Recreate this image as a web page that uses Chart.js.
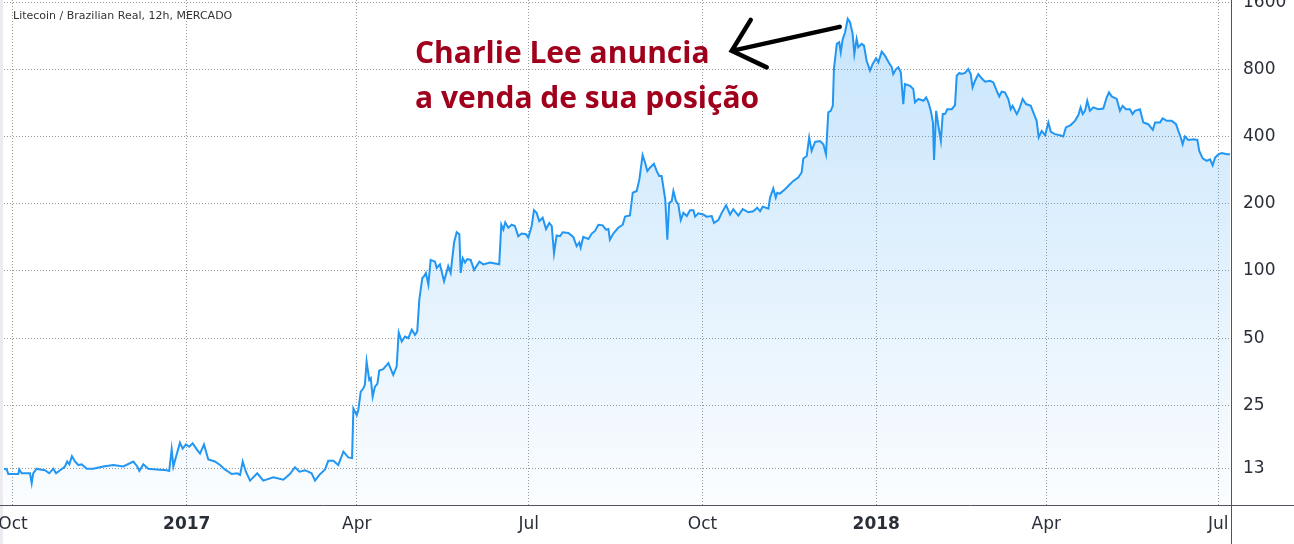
<!DOCTYPE html>
<html lang="pt-BR">
<head>
<meta charset="utf-8">
<title>Litecoin / Brazilian Real</title>
<script src="https://cdn.jsdelivr.net/npm/chart.js@4.4.1/dist/chart.umd.min.js"></script>
<style>
  html, body { margin: 0; padding: 0; background: #fff; }
  #caixa { position: relative; width: 1294px; height: 544px; overflow: hidden; }
  #grafico { position: absolute; left: 0; top: 0; }
  #titulo { position: absolute; left: 13px; top: 9px; font: 11px "DejaVu Sans", sans-serif; color: #333; white-space: nowrap; }
  #nota { position: absolute; left: 415px; top: 29px; font: bold 30px/45px "Open Sans", sans-serif; color: #a0001c; white-space: nowrap; }
</style>
</head>
<body>
<div id="caixa">
  <canvas id="grafico" width="1294" height="544"></canvas>
  <div id="titulo">Litecoin / Brazilian Real, 12h, MERCADO</div>
  <div id="nota">Charlie Lee anuncia<br>a venda de sua posição</div>
</div>
<script>
// dias contados a partir de 1 out 2016
const dias = [
  -4.8, -3.3, -2.5, 2.8, 3.3, 4.6, 9.0, 9.9, 10.7, 12.5, 14.3, 16.9, 19.2, 21.3, 22.8, 24.9,
  27.5, 28.7, 29.8, 31.2, 32.8, 34.6, 36.4, 39.0, 42.5, 47.8, 53.1, 58.4, 63.7, 65.8, 66.9, 69.0,
  71.6, 76.1, 81.4, 82.7, 84.0, 84.9, 86.3, 88.4, 89.8, 91.6, 93.3, 95.1, 97.2, 99.0, 101.1, 103.4,
  106.9, 109.6, 112.2, 115.8, 118.7, 120.2, 121.6, 123.3, 125.5, 129.3, 132.5, 137.8, 143.1, 146.6, 149.3, 151.6,
  154.6, 158.1, 159.9, 162.2, 165.2, 166.9, 169.6, 172.2, 174.9, 177.5, 179.5, 180.2, 182.0, 182.8, 184.1, 185.5,
  186.3, 187.2, 188.6, 189.4, 190.4, 191.6, 192.9, 193.9, 196.0, 198.7, 201.3, 203.1, 204.2, 205.8, 207.5, 209.3,
  211.1, 212.8, 214.0, 215.1, 216.7, 217.6, 218.6, 219.9, 221.1, 223.4, 224.3, 226.0, 228.2, 230.4, 231.7, 233.5,
  234.9, 236.3, 237.0, 238.1, 239.3, 240.5, 242.3, 244.1, 246.9, 249.0, 252.5, 255.2, 257.4, 258.5, 259.6, 260.6,
  262.2, 264.0, 265.7, 267.5, 269.3, 271.6, 272.8, 274.6, 275.8, 277.2, 278.6, 280.4, 282.2, 283.9, 285.2, 286.4,
  287.8, 289.6, 291.0, 294.0, 296.6, 298.4, 299.8, 300.5, 301.9, 304.6, 306.4, 308.1, 309.9, 312.2, 313.9, 315.2,
  316.0, 317.8, 320.4, 322.8, 324.0, 326.6, 328.1, 330.2, 331.6, 333.3, 334.6, 335.8, 337.2, 339.3, 340.8, 342.1,
  343.4, 344.6, 345.3, 346.4, 347.4, 348.7, 349.6, 351.0, 352.2, 353.5, 354.9, 356.7, 358.4, 360.2, 361.1, 362.8,
  365.4, 367.2, 369.9, 371.1, 373.4, 375.2, 377.5, 379.6, 381.3, 384.0, 386.3, 389.3, 391.9, 394.0, 395.5, 396.9,
  399.9, 400.8, 402.5, 403.8, 404.6, 406.0, 408.7, 410.4, 413.1, 415.7, 417.5, 418.4, 420.2, 421.5, 422.8, 424.6,
  427.2, 429.0, 430.4, 431.6, 432.9, 434.0, 434.6, 436.1, 437.4, 438.2, 439.2, 440.5, 441.9, 443.1, 444.5, 445.4,
  446.6, 447.5, 449.3, 450.5, 451.9, 453.7, 455.1, 456.9, 458.1, 459.9, 461.6, 463.4, 465.2, 466.0, 467.5, 468.7,
  470.0, 471.3, 472.2, 474.9, 476.6, 477.5, 479.3, 482.0, 483.4, 484.6, 485.9, 487.0, 487.6, 488.7, 489.9, 491.2,
  492.2, 493.4, 494.6, 497.0, 498.7, 499.6, 501.0, 502.2, 504.0, 505.7, 507.0, 508.0, 509.3, 511.0, 512.8, 514.6,
  517.2, 519.0, 520.8, 522.1, 523.4, 525.1, 526.9, 528.2, 529.2, 531.4, 532.7, 534.5, 536.3, 538.8, 540.5, 541.9,
  543.0, 544.6, 546.4, 548.1, 549.4, 551.6, 554.3, 556.0, 557.4, 559.9, 562.2, 564.0, 565.2, 566.3, 567.5, 568.7,
  570.1, 571.9, 574.5, 577.2, 579.0, 580.2, 581.6, 584.3, 586.0, 587.4, 589.2, 591.3, 592.7, 593.9, 596.6, 598.4,
  601.0, 603.4, 604.6, 607.2, 608.6, 610.8, 613.4, 615.7, 616.9, 618.2, 619.2, 620.4, 622.2, 624.8, 627.0, 628.0,
  629.8, 631.9, 633.7, 635.1, 636.4, 638.1, 639.9, 642.6, 644.3
];
// preço LTC em BRL
const precos = [
  13.0, 12.9, 12.3, 12.3, 12.9, 12.4, 12.4, 11.2, 12.4, 13.0, 12.9, 12.8, 12.4, 13.0, 12.4, 12.8,
  13.3, 14.0, 13.6, 14.8, 14.0, 13.5, 13.6, 13.0, 13.0, 13.3, 13.5, 13.3, 14.0, 13.3, 12.7, 13.6,
  13.0, 12.9, 12.8, 12.7, 15.9, 13.3, 14.7, 17.0, 16.0, 16.7, 16.3, 16.9, 15.9, 15.2, 16.7, 14.3,
  14.0, 13.5, 12.9, 12.3, 12.4, 12.2, 14.0, 12.6, 11.5, 12.4, 11.5, 11.9, 11.6, 12.3, 13.2, 12.6,
  12.8, 12.4, 11.5, 12.2, 12.9, 14.1, 14.1, 13.5, 15.5, 14.6, 14.5, 24.2, 22.6, 23.8, 28.8, 29.8,
  30.9, 39.3, 32.5, 33.1, 27.3, 30.3, 31.2, 35.8, 36.3, 38.6, 34.2, 37.3, 53.0, 48.3, 50.8, 50.0,
  54.5, 51.7, 53.5, 74.3, 93.0, 94.6, 97.9, 86.8, 112, 110, 103, 107, 89.8, 105, 97.9, 134,
  149, 146, 97.9, 114, 109, 113, 112, 101, 110, 107, 109, 108, 107, 161, 153, 165,
  156, 161, 159, 143, 147, 146, 141, 159, 187, 182, 167, 173, 154, 164, 159, 120,
  144, 143, 149, 148, 142, 129, 134, 127, 142, 139, 147, 151, 161, 160, 153, 154,
  138, 147, 156, 161, 175, 177, 224, 228, 257, 330, 306, 280, 290, 302, 280, 266,
  266, 228, 209, 138, 202, 205, 228, 205, 199, 169, 182, 176, 187, 187, 175, 181,
  179, 175, 176, 164, 169, 182, 197, 179, 189, 177, 189, 183, 185, 192, 185, 194,
  190, 213, 234, 213, 224, 222, 232, 240, 253, 262, 276, 319, 327, 396, 345, 378,
  382, 369, 333, 513, 521, 549, 802, 1040, 1058, 954, 1087, 1173, 1346, 1301, 1153, 937,
  1095, 1005, 1040, 1021, 874, 789, 845, 896, 860, 960, 921, 865, 817, 762, 802, 817,
  776, 559, 687, 675, 653, 569, 589, 578, 599, 569, 521, 462, 314, 521, 446, 382,
  504, 504, 530, 530, 553, 749, 770, 762, 770, 802, 762, 664, 711, 762, 729, 704,
  711, 699, 641, 605, 635, 631, 589, 530, 549, 504, 530, 589, 559, 549, 504, 470,
  396, 424, 405, 462, 420, 410, 405, 400, 439, 450, 470, 499, 540, 504, 521, 578,
  521, 540, 530, 534, 599, 631, 605, 589, 521, 549, 530, 530, 504, 521, 530, 462,
  454, 428, 462, 462, 482, 470, 470, 454, 424, 396, 369, 400, 386, 389, 386, 345,
  319, 311, 316, 297, 322, 333, 337, 333, 333
];
const diasRotulos = [0, 92, 182, 273, 365, 457, 547, 638];
const rotulosX = ['Oct', '2017', 'Apr', 'Jul', 'Oct', '2018', 'Apr', 'Jul'];
const ticksY = [13, 25, 50, 100, 200, 400, 800, 1600];

const fonteEixo = 'DejaVu Sans';
const corTexto = '#2a2e39';
const corGrade = '#9a9a9a';

const moldura = {
  id: 'moldura',
  beforeDraw(chart) {
    const c = chart.ctx;
    c.save();
    c.fillStyle = '#fff';
    c.fillRect(0, 0, chart.width, chart.height);
    c.fillStyle = '#ececf0';
    c.fillRect(0, 0, 3, chart.height);
    c.restore();
  },
  afterDraw(chart) {
    const c = chart.ctx;
    const a = chart.chartArea;
    c.save();
    c.strokeStyle = '#50535e';
    c.lineWidth = 1;
    c.beginPath();
    c.moveTo(0, Math.round(a.bottom) + 0.5);
    c.lineTo(chart.width, Math.round(a.bottom) + 0.5);
    c.moveTo(Math.round(a.right) + 0.5, 0);
    c.lineTo(Math.round(a.right) + 0.5, chart.height);
    c.stroke();
    c.restore();
  }
};

// seta preta apontando do topo para o texto
const seta = {
  id: 'seta',
  afterDatasetsDraw(chart) {
    const i = precos.indexOf(Math.max(...precos));
    const px = chart.scales.x.getPixelForValue(dias[i]);
    const py = chart.scales.y.getPixelForValue(precos[i]);
    const c = chart.ctx;
    const tx = px - 116, ty = py + 32;
    c.save();
    c.strokeStyle = '#000';
    c.lineWidth = 4.5;
    c.lineCap = 'round';
    c.beginPath();
    c.moveTo(px - 8, py + 8);
    c.lineTo(tx, ty);
    c.moveTo(tx + 19, ty - 31);
    c.lineTo(tx, ty);
    c.lineTo(tx + 35, ty + 16.5);
    c.stroke();
    c.restore();
  }
};

const pontos = dias.map((d, i) => ({ x: d, y: precos[i] }));

new Chart(document.getElementById('grafico'), {
  type: 'line',
  data: {
    datasets: [{
      label: 'LTC/BRL',
      data: pontos,
      borderColor: '#2196f3',
      borderWidth: 2,
      pointRadius: 0,
      tension: 0,
      fill: 'start',
      backgroundColor: (ctx) => {
        const area = ctx.chart.chartArea;
        if (!area) return 'rgba(33,150,243,0.15)';
        const g = ctx.chart.ctx.createLinearGradient(0, area.top, 0, area.bottom);
        g.addColorStop(0, 'rgba(33,150,243,0.26)');
        g.addColorStop(1, 'rgba(33,150,243,0.02)');
        return g;
      }
    }]
  },
  options: {
    responsive: false,
    animation: false,
    devicePixelRatio: 1,
    layout: { padding: { left: 4, top: 0, right: 0, bottom: 0 } },
    plugins: { legend: { display: false }, tooltip: { enabled: false } },
    scales: {
      x: {
        type: 'linear',
        min: -4.76,
        max: 644.8,
        afterBuildTicks: (s) => { s.ticks = diasRotulos.map(v => ({ value: v })); },
        afterFit: (s) => { s.height = 39; s.paddingLeft = 0; s.paddingRight = 0; },
        ticks: {
          autoSkip: false,
          maxRotation: 0,
          padding: 9,
          color: corTexto,
          callback: (v) => rotulosX[diasRotulos.indexOf(v)],
          font: (c) => ({
            family: fonteEixo,
            size: 17,
            weight: (c.tick && /^\d{4}$/.test(c.tick.label)) ? 'bold' : 'normal'
          })
        },
        grid: { color: corGrade, drawTicks: false },
        border: { display: false, dash: [1, 2] }
      },
      y: {
        type: 'logarithmic',
        position: 'right',
        min: 8.94,
        max: 1635,
        afterBuildTicks: (s) => { s.ticks = ticksY.map(v => ({ value: v })); },
        afterFit: (s) => { s.width = 63; s.paddingTop = 0; s.paddingBottom = 0; },
        ticks: {
          padding: 12,
          color: corTexto,
          font: { family: fonteEixo, size: 17 },
          callback: (v) => String(v)
        },
        grid: { color: corGrade, drawTicks: false },
        border: { display: false, dash: [1, 2] }
      }
    }
  },
  plugins: [moldura, seta]
});
</script>
</body>
</html>
